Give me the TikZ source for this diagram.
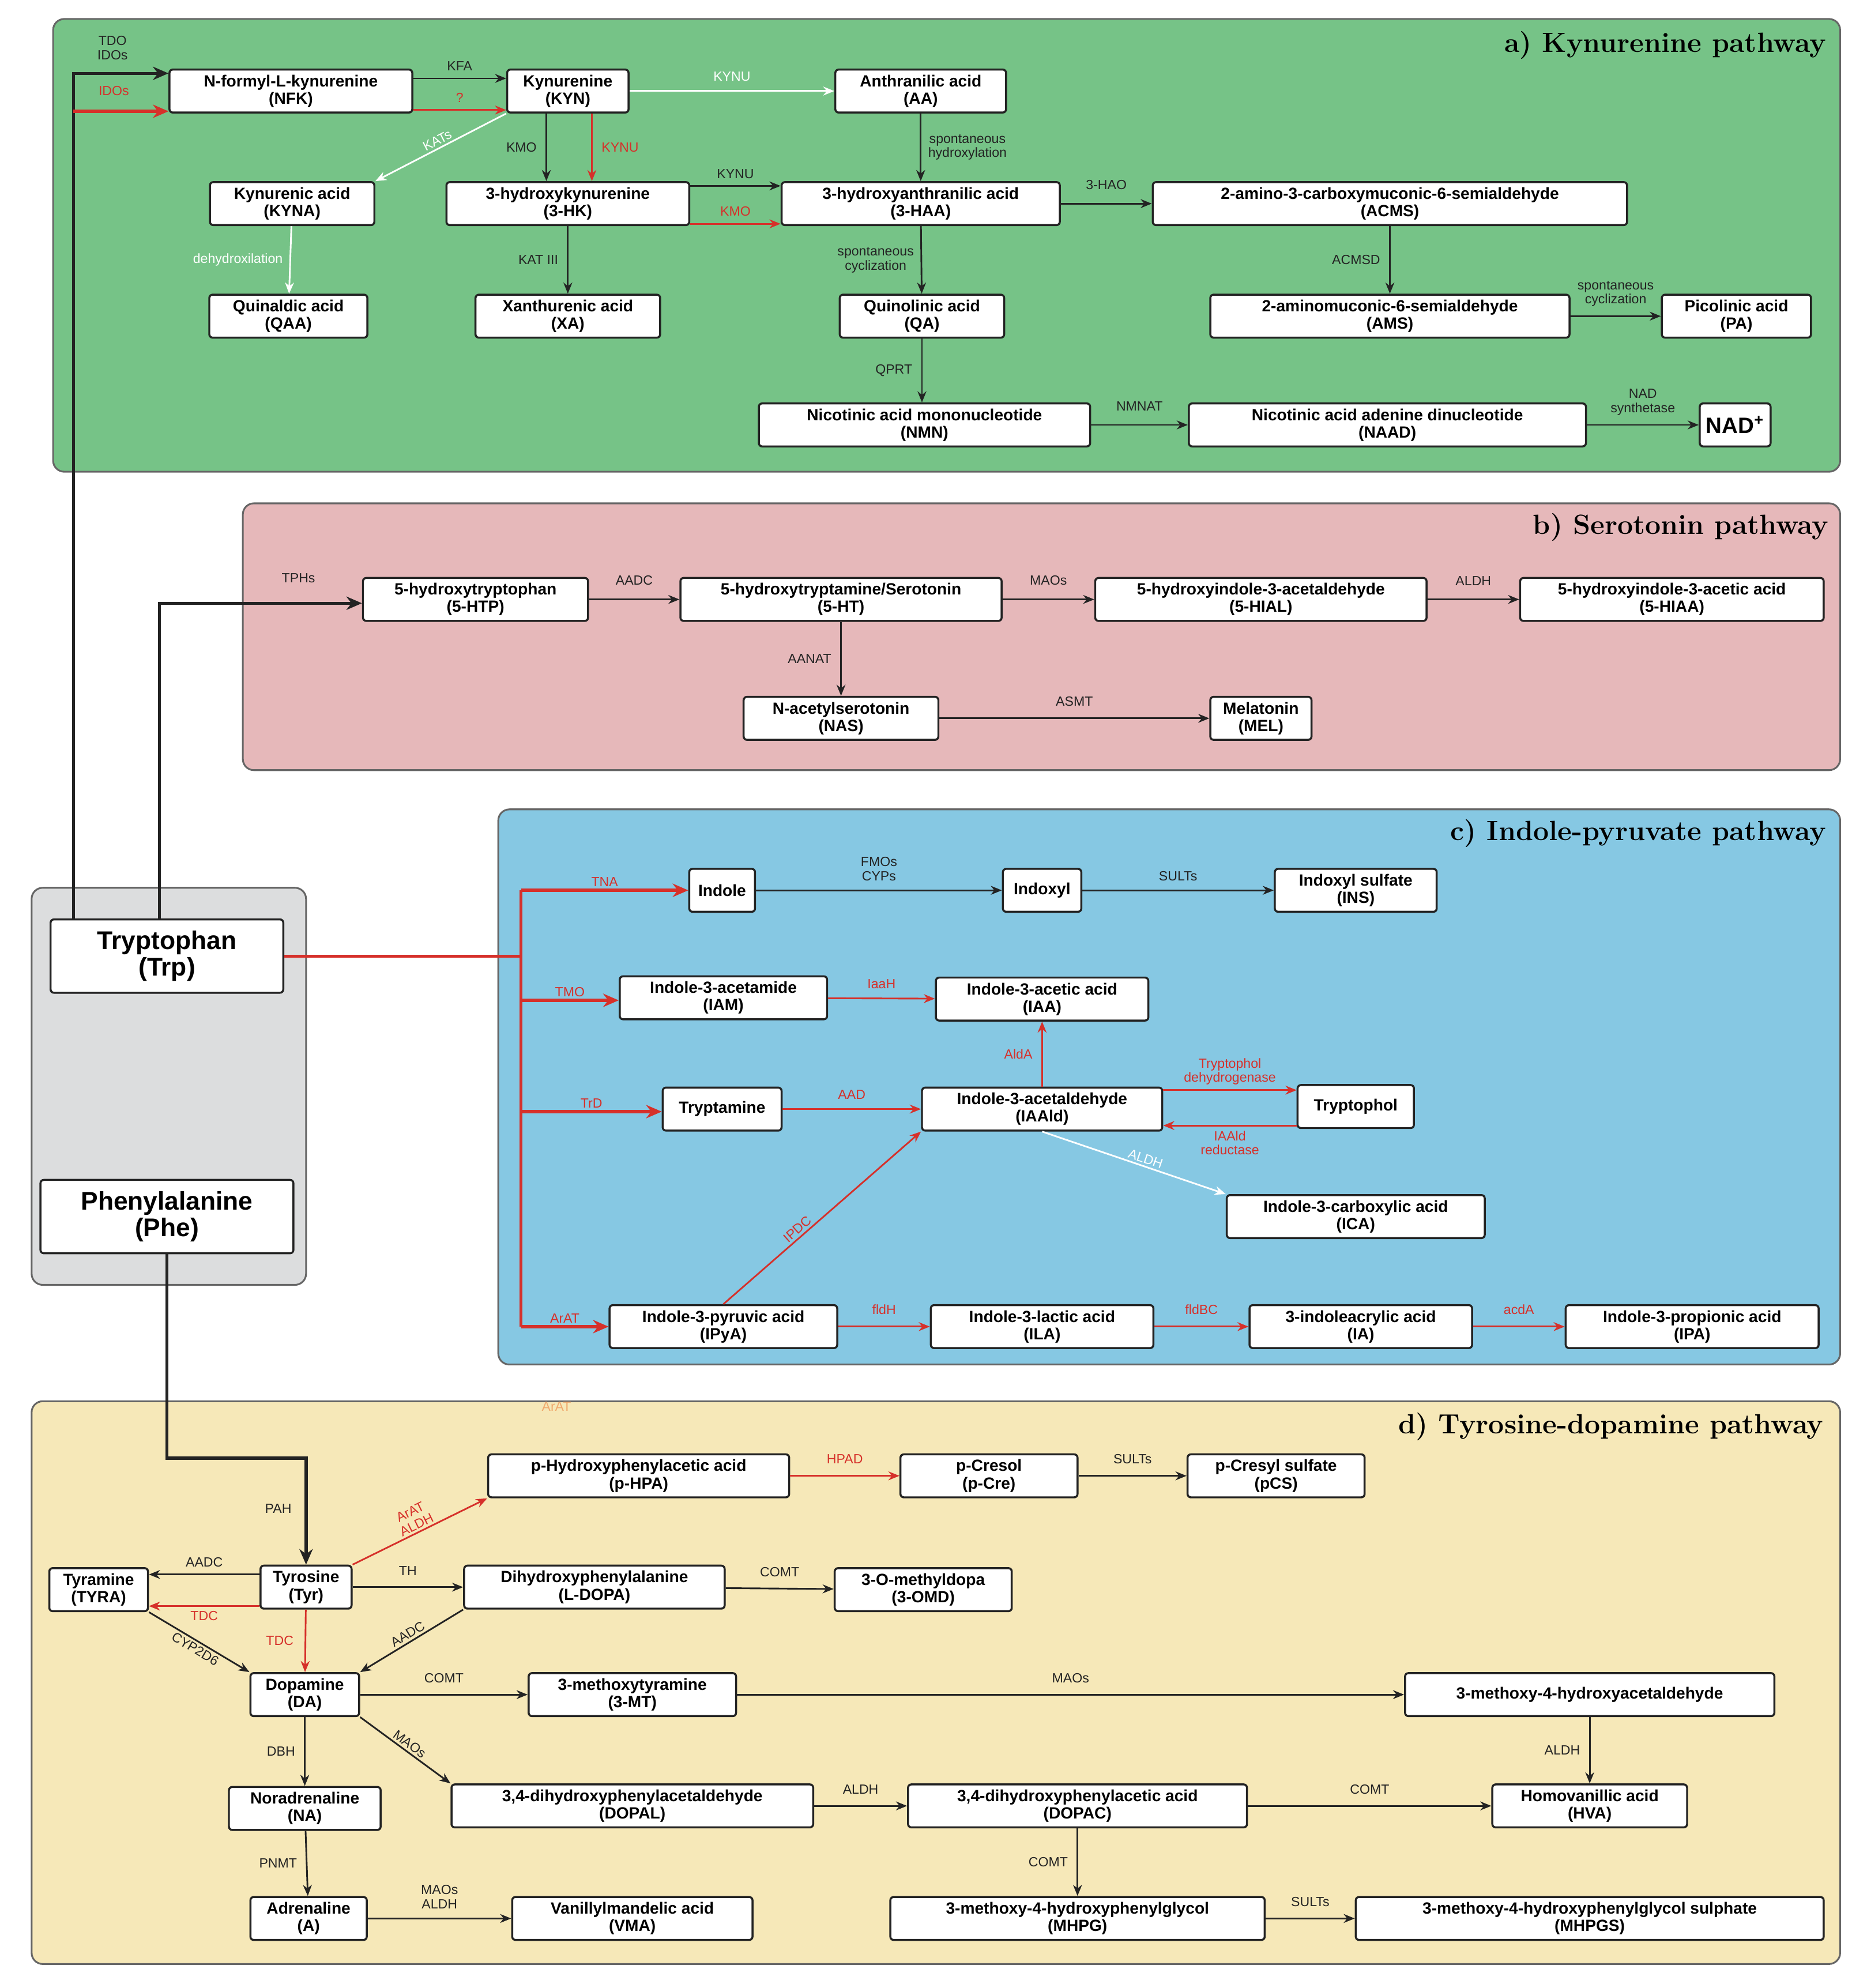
\documentclass[tikz,border=0pt]{standalone}
\usepackage{fontspec}
\newfontfamily\lsans{Liberation Sans}
\usetikzlibrary{arrows.meta}
\definecolor{pg}{RGB}{118,195,135}
\definecolor{pp}{RGB}{230,184,186}
\definecolor{pb}{RGB}{134,200,227}
\definecolor{py}{RGB}{246,232,184}
\definecolor{pgr}{RGB}{220,221,222}
\definecolor{rd}{RGB}{214,48,42}
\definecolor{dk}{RGB}{35,35,35}
\definecolor{ora}{RGB}{240,170,110}
\tikzset{
 box/.style={draw=dk, rounded corners=1.5pt, fill=white, line width=0.9pt, font=\lsans\bfseries\fontsize{7.3}{7.8}\selectfont, align=center, inner sep=1pt, minimum height=0.68cm},
 big/.style={box, font=\lsans\bfseries\fontsize{11.5}{12}\selectfont, minimum height=1.16cm},
 panel/.style={draw=black!60, rounded corners=5pt, line width=0.8pt},
 ttl/.style={anchor=east, font=\bfseries\fontsize{12.5}{13}\selectfont},
 arr/.style={-{Stealth[length=5pt,width=4pt]}, line width=0.75pt, draw=dk},
 rarr/.style={arr, draw=rd},
 warr/.style={arr, draw=white},
 tarr/.style={arr, line width=1.4pt, -{Stealth[length=7pt,width=6pt]}},
 trarr/.style={tarr, draw=rd},
 lab/.style={font=\lsans\fontsize{6}{6.4}\selectfont, align=center, inner sep=1pt, text=dk},
 rlab/.style={lab, text=rd},
 wlab/.style={lab, text=white},
}
\newcommand\bx[4]{\node[box, minimum width=#3*0.02cm] (#1) at (#2) {#4};}
\begin{document}
\begin{tikzpicture}[x=0.02cm,y=-0.02cm]
\useasboundingbox (0,0) rectangle (1476,1572);
% panels
\draw[panel, fill=pg] (42,15) rectangle (1455,373);
\draw[panel, fill=pp] (192,398) rectangle (1455,609);
\draw[panel, fill=pb] (394,640) rectangle (1455,1079);
\draw[panel, fill=py] (25,1108) rectangle (1455,1553);
\draw[panel, fill=pgr] (25,702) rectangle (242,1016);
\node[ttl] at (1450,36) {a) Kynurenine pathway};
\node[ttl] at (1452,417) {b) Serotonin pathway};
\node[ttl] at (1450,659) {c) Indole-pyruvate pathway};
\node[ttl] at (1448,1128) {d) Tyrosine-dopamine pathway};
% a
\bx{NFK}{230,72}{192}{N-formyl-L-kynurenine\\(NFK)}
\bx{KYN}{449,72}{96}{Kynurenine\\(KYN)}
\bx{AA}{728,72}{135}{Anthranilic acid\\(AA)}
\bx{KYNA}{231,161}{130}{Kynurenic acid\\(KYNA)}
\bx{HK}{449,161}{192}{3-hydroxykynurenine\\(3-HK)}
\bx{HAA}{728,161}{220}{3-hydroxyanthranilic acid\\(3-HAA)}
\bx{ACMS}{1099,161}{375}{2-amino-3-carboxymuconic-6-semialdehyde\\(ACMS)}
\bx{QAA}{228,250}{125}{Quinaldic acid\\(QAA)}
\bx{XA}{449,250}{146}{Xanthurenic acid\\(XA)}
\bx{QA}{729,250}{130}{Quinolinic acid\\(QA)}
\bx{AMS}{1099,250}{284}{2-aminomuconic-6-semialdehyde\\(AMS)}
\bx{PA}{1373,250}{118}{Picolinic acid\\(PA)}
\bx{NMN}{731,336}{262}{Nicotinic acid mononucleotide\\(NMN)}
\bx{NAAD}{1097,336}{314}{Nicotinic acid adenine dinucleotide\\(NAAD)}
\node[box, minimum width=56*0.02cm, font=\lsans\bfseries\fontsize{10}{11}\selectfont] (NAD) at (1372,336) {NAD\textsuperscript{+}};
% b
\bx{HTP}{376,474}{178}{5-hydroxytryptophan\\(5-HTP)}
\bx{HT}{665,474}{254}{5-hydroxytryptamine/Serotonin\\(5-HT)}
\bx{HIAL}{997,474}{262}{5-hydroxyindole-3-acetaldehyde\\(5-HIAL)}
\bx{HIAA}{1322,474}{240}{5-hydroxyindole-3-acetic acid\\(5-HIAA)}
\bx{NAS}{665,568}{154}{N-acetylserotonin\\(NAS)}
\bx{MEL}{997,568}{80}{Melatonin\\(MEL)}
% c
\bx{Indole}{571,704}{52}{Indole}
\bx{Indoxyl}{824,704}{62}{Indoxyl}
\bx{INS}{1072,704}{128}{Indoxyl sulfate\\(INS)}
\bx{IAM}{572,789}{164}{Indole-3-acetamide\\(IAM)}
\bx{IAA}{824,790}{168}{Indole-3-acetic acid\\(IAA)}
\bx{Tam}{571,877}{94}{Tryptamine}
\bx{IAAld}{824,877}{190}{Indole-3-acetaldehyde\\(IAAld)}
\bx{Tol}{1072,875}{92}{Tryptophol}
\bx{ICA}{1072,962}{204}{Indole-3-carboxylic acid\\(ICA)}
\bx{IPyA}{572,1049}{180}{Indole-3-pyruvic acid\\(IPyA)}
\bx{ILA}{824,1049}{176}{Indole-3-lactic acid\\(ILA)}
\bx{IA}{1076,1049}{176}{3-indoleacrylic acid\\(IA)}
\bx{IPA}{1338,1049}{200}{Indole-3-propionic acid\\(IPA)}
% grey
\node[big, minimum width=184*0.02cm] (Trp) at (132,756) {Tryptophan\\(Trp)};
\node[big, minimum width=200*0.02cm] (Phe) at (132,962) {Phenylalanine\\(Phe)};
% d
\bx{pHPA}{505,1167}{238}{p-Hydroxyphenylacetic acid\\(p-HPA)}
\bx{pCre}{782,1167}{140}{p-Cresol\\(p-Cre)}
\bx{pCS}{1009,1167}{140}{p-Cresyl sulfate\\(pCS)}
\bx{TYRA}{78,1257}{78}{Tyramine\\(TYRA)}
\bx{Tyr}{242,1255}{72}{Tyrosine\\(Tyr)}
\bx{LDOPA}{470,1255}{206}{Dihydroxyphenylalanine\\(L-DOPA)}
\bx{OMD}{730,1257}{140}{3-O-methyldopa\\(3-OMD)}
\bx{DA}{241,1340}{86}{Dopamine\\(DA)}
\bx{MT}{500,1340}{164}{3-methoxytyramine\\(3-MT)}
\bx{MHAc}{1257,1340}{292}{3-methoxy-4-hydroxyacetaldehyde}
\bx{NA}{241,1430}{120}{Noradrenaline\\(NA)}
\bx{DOPAL}{500,1428}{286}{3,4-dihydroxyphenylacetaldehyde\\(DOPAL)}
\bx{DOPAC}{852,1428}{268}{3,4-dihydroxyphenylacetic acid\\(DOPAC)}
\bx{HVA}{1257,1428}{154}{Homovanillic acid\\(HVA)}
\bx{Ad}{244,1517}{92}{Adrenaline\\(A)}
\bx{VMA}{500,1517}{190}{Vanillylmandelic acid\\(VMA)}
\bx{MHPG}{852,1517}{296}{3-methoxy-4-hydroxyphenylglycol\\(MHPG)}
\bx{MHPGS}{1257,1517}{370}{3-methoxy-4-hydroxyphenylglycol sulphate\\(MHPGS)}
% Trp connections
\coordinate (c1) at (58,58);
\coordinate (c2) at (58,88);
\coordinate (c3) at (126,477);
\draw[tarr] (Trp.north -| c1) -- (c1) -- (NFK.west |- c1);
\draw[trarr] (c2) -- (NFK.west |- c2);
\node[lab] at (89,38) {TDO\\IDOs};
\node[rlab] at (90,72) {IDOs};
\draw[tarr] (Trp.north -| c3) -- (c3) -- (HTP.west |- c3);
\node[lab] at (236,457) {TPHs};
\coordinate (r0) at (412,756);
\coordinate (r1) at (412,704);
\coordinate (r2) at (412,791);
\coordinate (r3) at (412,879);
\coordinate (r4) at (412,1049);
\draw[rd, line width=1.4pt] (Trp.east |- r0) -- (r0);
\draw[rd, line width=1.4pt] (r1) -- (r4);
\draw[trarr] (r1) -- node[rlab, above, pos=0.5]{TNA} (Indole.west);
\draw[trarr] (r2) -- node[rlab, above, pos=0.5]{TMO} (IAM.west |- r2);
\draw[trarr] (r3) -- node[rlab, above, pos=0.5]{TrD} (Tam.west |- r3);
\draw[trarr] (r4) -- node[rlab, above, pos=0.5]{ArAT} (IPyA.west);
\coordinate (p1) at (132,1153);
\coordinate (p2) at (242,1153);
\draw[tarr] (Phe.south) -- (p1) -- (p2) -- (Tyr.north);
\node[lab] at (220,1193) {PAH};
\node[lab, text=ora] at (440,1112) {ArAT};
% a edges
\draw[arr] ([yshift=0.2cm]NFK.east) -- node[lab, above=2pt]{KFA} ([yshift=0.2cm]KYN.west);
\draw[rarr] ([yshift=-0.3cm]NFK.east) -- node[rlab, above=2pt]{?} ([yshift=-0.3cm]KYN.west);
\draw[warr] (KYN) -- node[wlab, above=3pt]{KYNU} (AA);
\draw[warr] (KYN.south west) -- node[wlab, sloped, above]{KATs} (KYNA.north east);
\draw[arr] ([xshift=-0.34cm]KYN.south) -- node[lab, left=3pt]{KMO} ([xshift=-0.34cm]KYN.south |- HK.north);
\draw[rarr] ([xshift=0.38cm]KYN.south) -- node[rlab, right=3pt]{KYNU} ([xshift=0.38cm]KYN.south |- HK.north);
\draw[arr] (AA) -- node[lab, right=2pt]{spontaneous\\hydroxylation} (HAA);
\draw[arr] ([yshift=0.28cm]HK.east) -- node[lab, above=2pt]{KYNU} ([yshift=0.28cm]HAA.west);
\draw[rarr] ([yshift=-0.32cm]HK.east) -- node[rlab, above=2pt]{KMO} ([yshift=-0.32cm]HAA.west);
\draw[arr] (HAA) -- node[lab, above=5pt]{3-HAO} (ACMS);
\draw[warr] (KYNA) -- node[wlab, left=2pt]{dehydroxilation} (QAA);
\draw[arr] (HK) -- node[lab, left=3pt]{KAT III} (XA);
\draw[arr] (HAA) -- node[lab, left=2pt]{spontaneous\\cyclization} (QA);
\draw[arr] (ACMS) -- node[lab, left=3pt]{ACMSD} (AMS);
\draw[arr] (AMS) -- node[lab, above=3pt]{spontaneous\\cyclization} (PA);
\draw[arr] (QA) -- node[lab, left=3pt]{QPRT} (QA |- NMN.north);
\draw[arr] (NMN) -- node[lab, above=5pt]{NMNAT} (NAAD);
\draw[arr] (NAAD) -- node[lab, above=3pt]{NAD\\synthetase} (NAD);
% b edges
\draw[arr] (HTP) -- node[lab, above=5pt]{AADC} (HT);
\draw[arr] (HT) -- node[lab, above=5pt]{MAOs} (HIAL);
\draw[arr] (HIAL) -- node[lab, above=5pt]{ALDH} (HIAA);
\draw[arr] (HT) -- node[lab, left=3pt]{AANAT} (NAS);
\draw[arr] (NAS) -- node[lab, above=4pt]{ASMT} (MEL);
% c edges
\draw[arr] (Indole) -- node[lab, above=3pt]{FMOs\\CYPs} (Indoxyl);
\draw[arr] (Indoxyl) -- node[lab, above=3pt]{SULTs} (INS);
\draw[rarr] (IAM) -- node[rlab, above=3pt]{IaaH} (IAA);
\draw[rarr] (Tam) -- node[rlab, above=3pt]{AAD} (IAAld);
\draw[rarr] (IAAld) -- node[rlab, left=3pt]{AldA} (IAA);
\draw[rarr] ([yshift=0.3cm]IAAld.east) -- node[rlab, above=1pt]{Tryptophol\\dehydrogenase} ([yshift=0.3cm]IAAld.east -| Tol.west);
\draw[rarr] ([yshift=-0.3cm]Tol.west) -- node[rlab, below=1pt]{IAAld\\reductase} ([yshift=-0.3cm]Tol.west -| IAAld.east);
\draw[warr] (IAAld.south) -- node[wlab, sloped, above, pos=0.55]{ALDH} (ICA.north west);
\draw[rarr] (IPyA.north) -- node[rlab, sloped, above, pos=0.4]{IPDC} (IAAld.south west);
\draw[rarr] (IPyA) -- node[rlab, above=4pt]{fldH} (ILA);
\draw[rarr] (ILA) -- node[rlab, above=4pt]{fldBC} (IA);
\draw[rarr] (IA) -- node[rlab, above=4pt]{acdA} (IPA);
% d edges
\draw[rarr] (pHPA) -- node[rlab, above=4pt]{HPAD} (pCre);
\draw[arr] (pCre) -- node[lab, above=4pt]{SULTs} (pCS);
\draw[rarr] (Tyr.north east) -- node[rlab, sloped, above]{ArAT\\ALDH} (pHPA.south west);
\draw[arr] ([yshift=0.2cm]Tyr.west) -- node[lab, above=2pt]{AADC} ([yshift=0.2cm]Tyr.west -| TYRA.east);
\draw[rarr] ([yshift=-0.3cm]Tyr.west) -- node[rlab, below=1pt]{TDC} ([yshift=-0.3cm]Tyr.west -| TYRA.east);
\draw[arr] (Tyr) -- node[lab, above=4pt]{TH} (LDOPA);
\draw[arr] (LDOPA) -- node[lab, above=4pt]{COMT} (OMD);
\draw[rarr] (Tyr) -- node[rlab, left=4pt]{TDC} (DA);
\draw[arr] (LDOPA.south west) -- node[lab, sloped, above]{AADC} (DA.north east);
\draw[arr] (TYRA.south east) -- node[lab, sloped, below]{CYP2D6} (DA.north west);
\draw[arr] (DA) -- node[lab, above=4pt]{COMT} (MT);
\draw[arr] (MT) -- node[lab, above=4pt]{MAOs} (MHAc);
\draw[arr] (MHAc) -- node[lab, left=3pt]{ALDH} (HVA);
\draw[arr] (DA.south east) -- node[lab, sloped, above]{MAOs} (DOPAL.north west);
\draw[arr] (DA) -- node[lab, left=3pt]{DBH} (NA);
\draw[arr] (DOPAL) -- node[lab, above=4pt]{ALDH} (DOPAC);
\draw[arr] (DOPAC) -- node[lab, above=4pt]{COMT} (HVA);
\draw[arr] (DOPAC) -- node[lab, left=3pt]{COMT} (MHPG);
\draw[arr] (NA) -- node[lab, left=3pt]{PNMT} (Ad);
\draw[arr] (Ad) -- node[lab, above=3pt]{MAOs\\ALDH} (VMA);
\draw[arr] (MHPG) -- node[lab, above=4pt]{SULTs} (MHPGS);
\end{tikzpicture}
\end{document}
